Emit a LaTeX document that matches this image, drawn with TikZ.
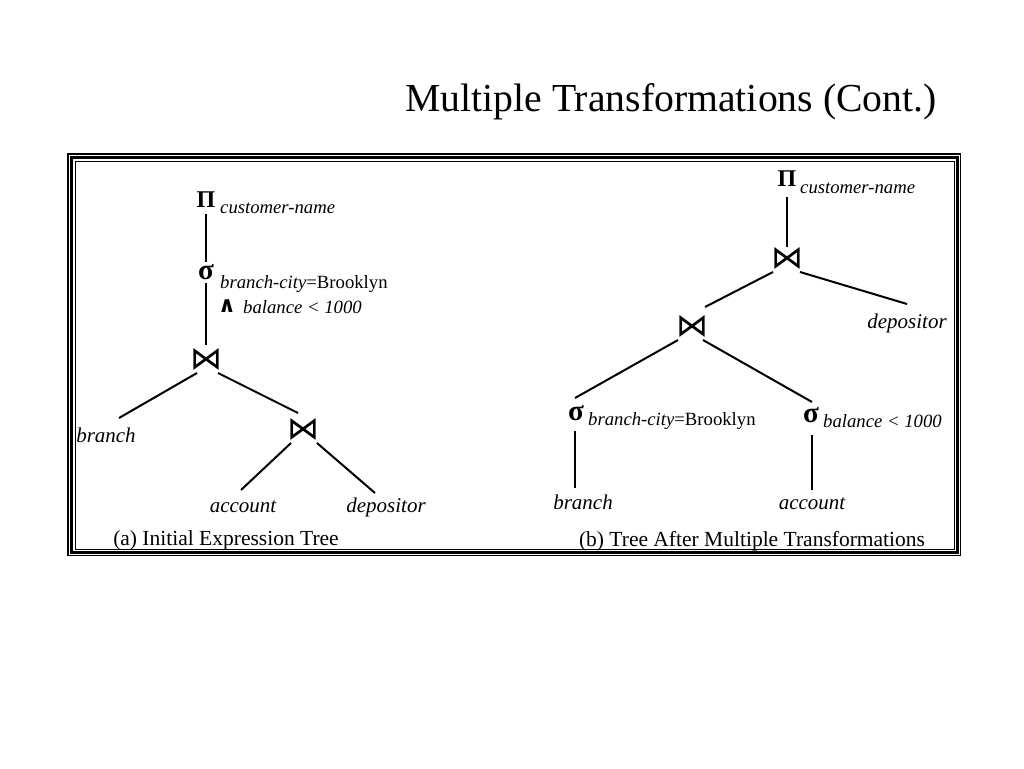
\documentclass[tikz,border=0pt]{standalone}
\usepackage{fontspec}
\setmainfont{Liberation Serif}
\newfontfamily\djv{DejaVu Sans}
\usetikzlibrary{calc}
\begin{document}
\begin{tikzpicture}[x=1pt,y=-1pt,
  edge/.style={line width=2pt},
  lab/.style={inner sep=0pt,font=\fontsize{21}{21}\selectfont\itshape},
  sub/.style={inner sep=0pt,anchor=base west,font=\fontsize{18.7}{19}\selectfont},
  captext/.style={inner sep=0pt,anchor=base,font=\fontsize{21.5}{22}\selectfont},
  pisym/.style={inner sep=0pt,font=\fontsize{24}{24}\selectfont\bfseries},
  sigsym/.style={inner sep=0pt,font=\fontsize{29}{29}\selectfont\bfseries},
  joinsym/.style={inner sep=0pt,font=\fontsize{32}{32}\djv},
  wedgesym/.style={inner sep=0pt,font=\fontsize{22}{22}\djv\bfseries}]
\useasboundingbox (0,0) rectangle (1024,768);
\fill[white] (0,0) rectangle (1024,768);
% title
\node[inner sep=0pt,anchor=base,font=\fontsize{39.7}{40}\selectfont] (title) at (671,111) {Multiple Transformations (Cont.)};
% frame
\draw[line width=1.2pt] (68,154) rectangle (960.5,555.5);
\draw[line width=2.8pt] (71.5,157.5) rectangle (957.5,552.5);
\draw[line width=1.2pt] (75.5,161.5) rectangle (954.5,549.5);
% ---------- left tree ----------
\node[pisym] (p1) at (206,200) {Π};
\node[sub] (cn1) at (220,213) {\itshape customer-name};
\node[sigsym] (s1) at (206,272) {σ};
\node[sub] (bc1) at (220,288) {\textit{branch-city}=Brooklyn};
\node[wedgesym] (w1) at (227,306) {∧};
\node[sub] (bal1) at (243,313) {\itshape balance < 1000};
\node[joinsym] (j1) at (206,359) {⋈};
\node[joinsym] (j2) at (303,429) {⋈};
\node[lab,anchor=base] (br1) at (106,442) {branch};
\node[lab,anchor=base] (ac1) at (243,512) {account};
\node[lab,anchor=base] (de1) at (386,512) {depositor};
\node[captext] (capA) at (226,545.5) {(a) Initial Expression Tree};
\draw[edge] ([shift={(0,14)}]p1.center) -- ([shift={(0,-10)}]s1.center);
\draw[edge] ([shift={(0,11)}]s1.center) -- ([shift={(0,-14)}]j1.center);
\draw[edge] ([shift={(-9,14)}]j1.center) -- ([shift={(13,-24)}]br1.base);
\draw[edge] ([shift={(12,14)}]j1.center) -- ([shift={(-5,-16)}]j2.center);
\draw[edge] ([shift={(-12,14)}]j2.center) -- ([shift={(-2,-22)}]ac1.base);
\draw[edge] ([shift={(14,14)}]j2.center) -- ([shift={(-11,-19)}]de1.base);
% ---------- right tree ----------
\node[pisym] (p2) at (787,179) {Π};
\node[sub] (cn2) at (800,193) {\itshape customer-name};
\node[joinsym] (j3) at (787,258) {⋈};
\node[joinsym] (j4) at (692,326) {⋈};
\node[lab,anchor=base] (de2) at (907,328) {depositor};
\node[sigsym] (s3) at (576,413) {σ};
\node[sub] (bc3) at (588,425) {\textit{branch-city}=Brooklyn};
\node[sigsym] (s4) at (811,415) {σ};
\node[sub] (bal4) at (823,427) {\itshape balance < 1000};
\node[lab,anchor=base] (br2) at (583,509) {branch};
\node[lab,anchor=base] (ac2) at (812,509) {account};
\node[captext] (capB) at (752,546.5) {(b) Tree After Multiple Transformations};
\draw[edge] ([shift={(0,18)}]p2.center) -- ([shift={(0,-11)}]j3.center);
\draw[edge] ([shift={(13,14)}]j3.center) -- ([shift={(0,-24)}]de2.base);
\draw[edge] ([shift={(-14,14)}]j3.center) -- ([shift={(13,-19)}]j4.center);
\draw[edge] ([shift={(-14,14)}]j4.center) -- ([shift={(-1,-15)}]s3.center);
\draw[edge] ([shift={(11,14)}]j4.center) -- ([shift={(1,-13)}]s4.center);
\draw[edge] ([shift={(-1,18)}]s3.center) -- ([shift={(-8,-21)}]br2.base);
\draw[edge] ([shift={(1,20)}]s4.center) -- ([shift={(0,-19)}]ac2.base);
\end{tikzpicture}
\end{document}
